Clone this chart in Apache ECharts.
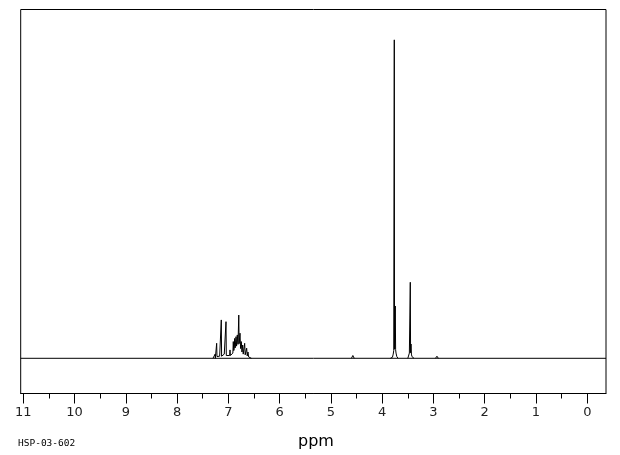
<!DOCTYPE html>
<html>
<head>
<meta charset="utf-8">
<script src="https://cdn.jsdelivr.net/npm/echarts@6/dist/echarts.min.js"></script>
<style>
html,body{margin:0;padding:0;background:#fff;}
#c{width:620px;height:455px;}
</style>
</head>
<body>
<div id="c"></div>
<script>
// x-axis tick labels (ppm)
const majorTicks = [0,1,2,3,4,5,6,7,8,9,10,11];
const minorTicks = [0.5,1.5,2.5,3.5,4.5,5.5,6.5,7.5,8.5,9.5,10.5];
const axisRange = [-0.365, 11.05];
const xTitle = 'ppm';
const sampleId = 'HSP-03-602';

// spectrum groups: [ppm, intensity]
const baseline = [[11.05,0],[-0.365,0]];
const aromatic = [
  [7.30,0],[7.262,0],[7.258,1.2],[7.254,0],
  [7.235,0.3],[7.228,4.3],[7.222,0.5],
  [7.20,0.3],[7.17,0.6],
  [7.145,0.5],[7.138,11.0],[7.132,0.6],
  [7.10,0.8],[7.08,1.2],
  [7.052,0.8],[7.046,10.5],[7.040,0.8],
  [7.01,0.6],[6.975,0.8],[6.968,2.4],[6.96,0.8],
  [6.93,1.0],[6.912,1.5],[6.904,4.8],[6.895,2.2],[6.884,2.8],[6.877,5.7],
  [6.866,3.0],[6.858,3.5],[6.851,6.2],[6.840,3.5],[6.832,4.0],[6.826,6.7],
  [6.812,4.0],[6.803,4.5],[6.797,12.4],[6.790,4.2],[6.780,4.5],[6.773,7.2],
  [6.762,2.8],[6.755,2.5],[6.748,4.8],[6.735,1.8],[6.727,1.6],[6.721,3.8],
  [6.710,1.2],[6.695,1.0],[6.688,1.5],[6.682,4.3],[6.672,1.0],[6.655,0.8],
  [6.643,2.9],[6.632,0.7],[6.624,0.6],[6.617,1.8],[6.605,0.4],[6.58,0.2],[6.55,0]
];
const smallPeak = [[4.60,0],[4.572,0.8],[4.545,0]];
const methoxyA = [
  [3.84,0],[3.80,0.3],[3.785,1.2],[3.775,2.2],[3.769,2.5],[3.764,91.3],
  [3.759,2.6],[3.755,2.8],[3.745,15.0],[3.738,2.5],[3.73,1.5],[3.715,0.5],[3.69,0]
];
const methoxyB = [
  [3.50,0],[3.48,0.5],[3.47,1.5],[3.458,1.8],[3.452,21.8],[3.446,1.6],
  [3.438,4.1],[3.43,1.2],[3.42,0.5],[3.38,0]
];
const tinyPeak = [[2.96,0],[2.932,0.6],[2.905,0]];

const groups = [baseline, aromatic, smallPeak, methoxyA, methoxyB, tinyPeak];

const chart = echarts.init(document.getElementById('c'), null, {renderer:'canvas'});
const font = 'DejaVu Sans';
chart.setOption({
  animation:false,
  backgroundColor:'#fff',
  grid:{left:20.7, right:14, top:9.5, bottom:61.5, show:true, borderColor:'#000', borderWidth:1, backgroundColor:'transparent'},
  xAxis:[{
    type:'value', min:axisRange[0], max:axisRange[1], inverse:true,
    splitLine:{show:false},
    axisLine:{show:true, onZero:false, lineStyle:{color:'#000', width:1}},
    axisTick:{show:true, customValues:majorTicks, length:10, lineStyle:{color:'#000', width:1}},
    axisLabel:{show:true, customValues:majorTicks, margin:13, color:'#222', fontFamily:font, fontSize:13, formatter:v=>String(v)}
  },{
    type:'value', min:axisRange[0], max:axisRange[1], inverse:true, position:'bottom',
    splitLine:{show:false},
    axisLine:{show:false, onZero:false},
    axisTick:{show:true, customValues:minorTicks, length:5, lineStyle:{color:'#000', width:1}},
    axisLabel:{show:false}
  }],
  yAxis:{type:'value', min:-10.09, max:100, show:false, splitLine:{show:false}},
  series: groups.map(g => ({
    type:'line', xAxisIndex:0, data:g, showSymbol:false, symbol:'none',
    lineStyle:{color:'#000', width:1}, silent:true
  })),
  graphic:[
    {type:'text', left:298, top:434, style:{text:xTitle, font:'16px "DejaVu Sans"', fill:'#000'}},
    {type:'text', left:18, top:439, style:{text:sampleId, font:'9.5px "DejaVu Sans Mono"', fill:'#000'}}
  ]
});
</script>
</body>
</html>
